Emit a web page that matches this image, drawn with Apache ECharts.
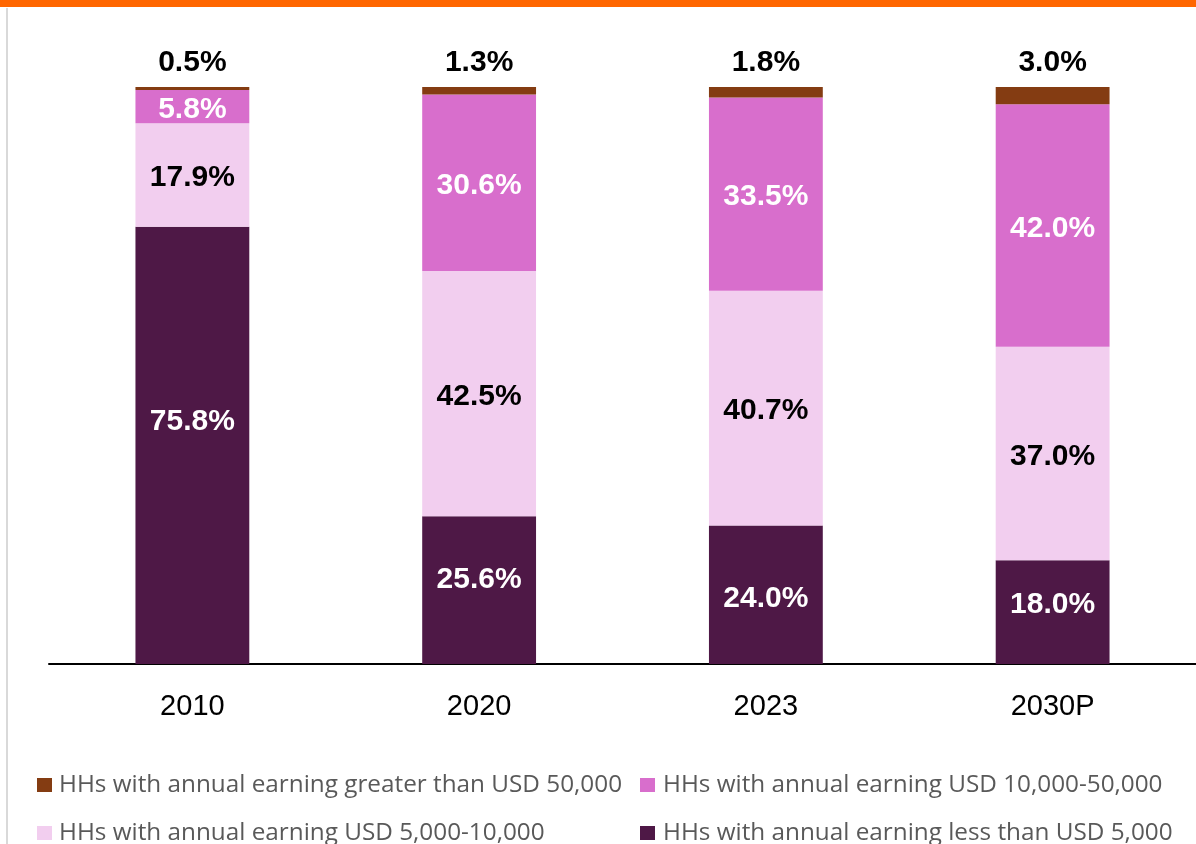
<!DOCTYPE html>
<html>
<head>
<meta charset="utf-8">
<script src="https://cdn.jsdelivr.net/npm/echarts@6/dist/echarts.min.js"></script>
<style>
  html, body { margin: 0; padding: 0; background: #ffffff; }
  #chart { width: 1196px; height: 844px; }
</style>
</head>
<body>
<div id="chart"></div>
<script>
// Household income distribution (% of households), stacked to 100%
var categories = ['2010', '2020', '2023', '2030P'];
var lessThan5k   = [75.8, 25.6, 24.0, 18.0];
var usd5kTo10k   = [17.9, 42.5, 40.7, 37.0];
var usd10kTo50k  = [5.8, 30.6, 33.5, 42.0];
var greater50k   = [0.5, 1.3, 1.8, 3.0];

// vertical nudges (px) for the labels of the lowest segment
var lessLabelNudge = [-24, -10, 4, -7];

var seriesNames = {
  less: 'HHs with annual earning less than USD 5,000',
  low: 'HHs with annual earning USD 5,000-10,000',
  mid: 'HHs with annual earning USD 10,000-50,000',
  high: 'HHs with annual earning greater than USD 50,000'
};

var colors = {
  less: '#4E1846',
  low: '#F2CEEF',
  mid: '#D86ECC',
  high: '#843C12'
};

var labelFont = 'Liberation Sans, Arial, sans-serif';
var legendFont = 'Open Sans, sans-serif';

function pct(p) { return p.value.toFixed(1) + '%'; }

function barSeries(name, values, color, labelColor, pos, nudges) {
  var data = values.map(function (v, i) {
    if (!nudges) return v;
    return { value: v, label: { offset: [0, nudges[i]] } };
  });
  return {
    name: name,
    type: 'bar',
    stack: 'total',
    barWidth: '39.7%',
    data: data,
    itemStyle: { color: color },
    label: {
      show: true,
      position: pos,
      distance: 9,
      offset: pos === 'inside' ? [0, 3] : [0, 0],
      color: labelColor,
      fontFamily: labelFont,
      fontWeight: 'bold',
      fontSize: 30,
      formatter: pct
    },
    emphasis: { disabled: true }
  };
}

function legendAt(left, top, name, gap) {
  return {
    left: left,
    top: top,
    padding: 0,
    orient: 'horizontal',
    itemWidth: 15,
    itemHeight: 14,
    icon: 'rect',
    selectedMode: false,
    textStyle: {
      color: '#595959',
      fontFamily: legendFont,
      fontSize: 24.3,
      padding: [0, 0, 0, gap]
    },
    data: [name]
  };
}

var chart = echarts.init(document.getElementById('chart'), null, { renderer: 'canvas' });

chart.setOption({
  animation: false,
  backgroundColor: '#ffffff',
  graphic: [
    { type: 'rect', shape: { x: 0, y: 0, width: 1196, height: 7 }, style: { fill: '#FF6600' }, z: 10 },
    { type: 'rect', shape: { x: 6, y: 8, width: 2, height: 836 }, style: { fill: '#D9D9D9' }, z: 10 }
  ],
  grid: { left: 49, right: -1, top: 87, bottom: 180, containLabel: false },
  xAxis: {
    type: 'category',
    data: categories,
    axisLine: { show: true, lineStyle: { color: '#000000', width: 2 } },
    axisTick: { show: false },
    axisLabel: {
      color: '#000000',
      fontFamily: labelFont,
      fontSize: 29,
      margin: 28
    }
  },
  yAxis: {
    type: 'value',
    min: 0,
    max: 100,
    show: false,
    splitLine: { show: false }
  },
  legend: [
    legendAt(37, 773, seriesNames.high, 2),
    legendAt(37, 821, seriesNames.low, 2),
    legendAt(640, 773, seriesNames.mid, 3),
    legendAt(640, 821, seriesNames.less, 3)
  ],
  series: [
    barSeries(seriesNames.less, lessThan5k, colors.less, '#ffffff', 'inside', lessLabelNudge),
    barSeries(seriesNames.low, usd5kTo10k, colors.low, '#000000', 'inside'),
    barSeries(seriesNames.mid, usd10kTo50k, colors.mid, '#ffffff', 'inside'),
    barSeries(seriesNames.high, greater50k, colors.high, '#000000', 'top')
  ]
});
</script>
</body>
</html>
